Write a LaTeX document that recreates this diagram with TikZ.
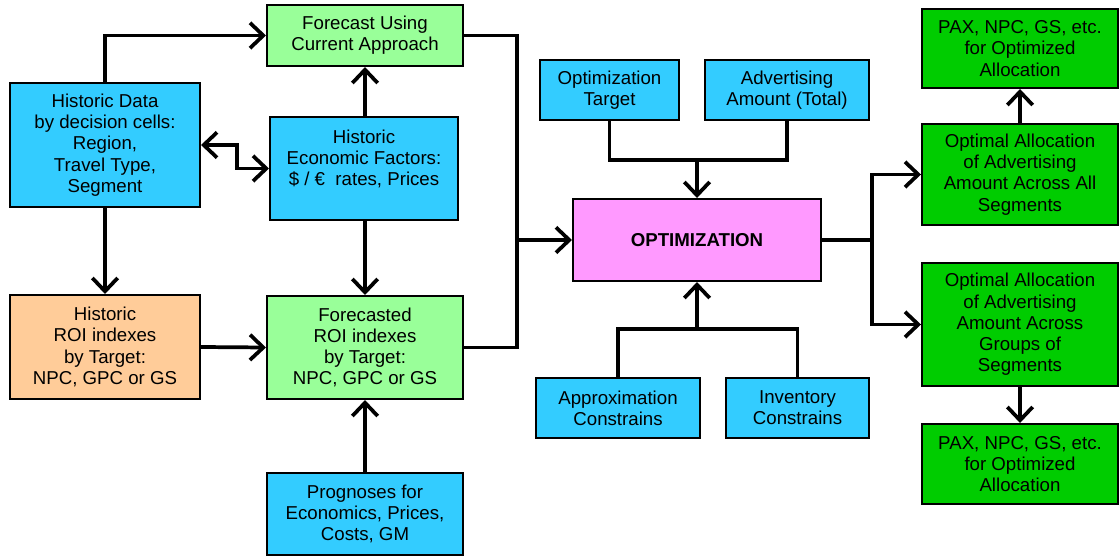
\documentclass[tikz,border=0pt]{standalone}
\usepackage{fontspec}
\setmainfont{Liberation Sans}
\usetikzlibrary{arrows.meta,positioning}
\definecolor{cyanbox}{HTML}{33CCFF}
\definecolor{lgreenbox}{HTML}{99FF99}
\definecolor{orangebox}{HTML}{FFCC99}
\definecolor{pinkbox}{HTML}{FF99FF}
\definecolor{greenbox}{HTML}{00CC00}

\begin{document}
\begin{tikzpicture}[x=0.75pt, y=-0.75pt]
\tikzset{box/.style={draw, line width=1.5pt, align=center, inner sep=0pt,
    font=\fontsize{14}{15.9}\selectfont},
  link/.style={line width=2.8pt},
  arrow/.style={link, -{Straight Barb[length=10pt,width=19pt]}}}
\useasboundingbox (0,0) rectangle (1119,556);

% left column
\node[box, fill=cyanbox, minimum width=142.5pt, minimum height=93pt] (hdata) at (105,145)
  {Historic Data\\ by decision cells:\\ Region,\\ Travel Type,\\ Segment};
\node[box, fill=orangebox, minimum width=142.5pt, minimum height=78pt] (hroi) at (105,347)
  {Historic\\ ROI indexes\\ by Target:\\ NPC, GPC or GS};

% middle column
\node[box, fill=lgreenbox, minimum width=147pt, minimum height=45.75pt] (fcur) at (365,35.5)
  {Forecast Using\\ Current Approach};
\node[box, fill=cyanbox, minimum width=141pt, minimum height=77.25pt] (hecon) at (364,168.5)
  {Historic\\ Economic Factors:\\ \$ / €\ \ rates, Prices\\};
\node[box, fill=lgreenbox, minimum width=147pt, minimum height=77.25pt] (froi) at (365,347.5)
  {Forecasted\\ ROI indexes\\ by Target:\\ NPC, GPC or GS};
\node[box, fill=cyanbox, minimum width=147pt, minimum height=61.5pt] (prog) at (365,514)
  {Prognoses for\\ Economics, Prices,\\ Costs, GM};

% optimization block
\node[box, fill=pinkbox, minimum width=186pt, minimum height=61.5pt, font=\fontsize{14}{15.9}\selectfont\bfseries] (optim) at (697,240)
  {OPTIMIZATION};
\node[box, fill=cyanbox, minimum width=104.25pt, minimum height=45pt] (otarget) at (609.5,90)
  {Optimization\\ Target};
\node[box, fill=cyanbox, minimum width=123pt, minimum height=45pt] (advamt) at (787,90)
  {Advertising\\ Amount (Total)};
\node[box, fill=cyanbox, minimum width=123pt, minimum height=45pt] (approx) at (618,408)
  {Approximation\\ Constrains};
\node[box, fill=cyanbox, minimum width=107.25pt, minimum height=45pt] (invent) at (797.5,408)
  {Inventory\\ Constrains};

% results
\node[box, fill=greenbox, minimum width=147pt, minimum height=59.25pt] (paxtop) at (1020,48.5)
  {PAX, NPC, GS, etc.\\ for Optimized\\ Allocation};
\node[box, fill=greenbox, minimum width=147pt, minimum height=75.75pt] (oall) at (1020,174.5)
  {Optimal Allocation\\ of Advertising\\ Amount Across All\\ Segments};
\node[box, fill=greenbox, minimum width=147pt, minimum height=92.25pt] (ogroups) at (1020,324.5)
  {Optimal Allocation\\ of Advertising\\ Amount Across\\ Groups of\\ Segments};
\node[box, fill=greenbox, minimum width=147pt, minimum height=60pt] (paxbot) at (1020,464)
  {PAX, NPC, GS, etc.\\ for Optimized\\ Allocation};

\coordinate (merge) at (517,240);
\coordinate (topjoin) at (697,160);
\coordinate (botjoin) at (697,329);
\coordinate (split) at (872,240);

\draw[arrow] (hdata.north) |- (fcur.west);
\draw[arrow, {Straight Barb[length=10pt,width=19pt]}-{Straight Barb[length=10pt,width=19pt]}] (hdata.east) -- ++(36,0) |- (hecon.west);
\draw[arrow] (hecon.north -| fcur.south) -- (fcur.south);
\draw[arrow] (hdata.south) -- (hroi.north);
\draw[arrow] (hecon.south -| froi.north) -- (froi.north);
\draw[arrow] (hroi.east) -- (froi.west);
\draw[arrow] (prog.north) -- (froi.south);

\draw[link] (fcur.east) -| (merge) |- (froi.east);
\draw[arrow] (merge) -- (optim.west);
\draw[link] (otarget.south) |- (topjoin) -| (advamt.south);
\draw[arrow] (topjoin) -- (optim.north);
\draw[link] (approx.north) |- (botjoin) -| (invent.north);
\draw[arrow] (botjoin) -- (optim.south);

\draw[link] (optim.east) -- (split);
\draw[arrow] (split) |- (oall.west);
\draw[arrow] (split) |- (ogroups.west);
\draw[arrow] (oall.north) -- (paxtop.south);
\draw[arrow] (ogroups.south) -- (paxbot.north);
\end{tikzpicture}
\end{document}
